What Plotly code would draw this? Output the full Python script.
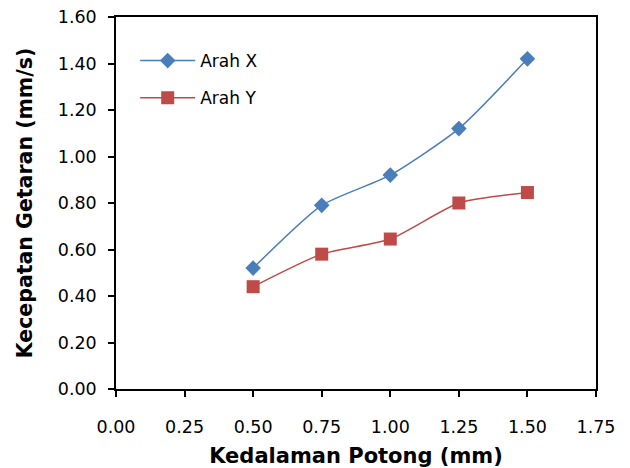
import plotly.graph_objects as go

depth = [0.50, 0.75, 1.00, 1.25, 1.50]
arah_x = [0.52, 0.79, 0.92, 1.12, 1.42]
arah_y = [0.44, 0.58, 0.645, 0.80, 0.845]
x_ticks = [0.00, 0.25, 0.50, 0.75, 1.00, 1.25, 1.50, 1.75]
y_ticks = [0.00, 0.20, 0.40, 0.60, 0.80, 1.00, 1.20, 1.40, 1.60]

FONT = "DejaVu Sans"

fig = go.Figure()
fig.add_trace(go.Scatter(
    x=depth, y=arah_x, name="Arah X", mode="lines+markers", legendgroup="x",
    line=dict(color="#4a7ebb", width=1.5, shape="spline", smoothing=0.6),
    marker=dict(symbol="diamond", size=12, color="#4a7ebb"),
))
fig.add_trace(go.Scatter(
    x=depth, y=arah_y, name="Arah Y", mode="lines+markers", legendgroup="y",
    line=dict(color="#be4b48", width=1.5, shape="spline", smoothing=0.6),
    marker=dict(symbol="square", size=13, color="#be4b48"),
))

fig.update_layout(
    width=630, height=468,
    margin=dict(l=116, r=34, t=17, b=79),
    paper_bgcolor="white", plot_bgcolor="white",
    font=dict(family=FONT, size=17.5, color="black"),
    showlegend=True,
    legend=dict(x=0.04, y=0.93, xanchor="left", yanchor="top",
                bgcolor="rgba(0,0,0,0)", font=dict(family=FONT, size=17),
                tracegroupgap=12, itemwidth=55),
    xaxis=dict(
        range=[0, 1.75], tickvals=x_ticks,
        ticktext=[f"{v:.2f}" for v in x_ticks],
        showgrid=False, zeroline=False, automargin=False,
        showline=True, linecolor="black", linewidth=1.5, mirror=True,
        ticks="outside", ticklen=6, tickcolor="black", tickwidth=1.5,
        ticklabelstandoff=15,
        title=dict(text="<b>Kedalaman Potong (mm)</b>", font=dict(family=FONT, size=21), standoff=14),
    ),
    yaxis=dict(
        range=[0, 1.60], tickvals=y_ticks,
        ticktext=[f"{v:.2f}" for v in y_ticks],
        showgrid=False, zeroline=False, automargin=False,
        showline=True, linecolor="black", linewidth=1.5, mirror=True,
        ticks="outside", ticklen=6, tickcolor="black", tickwidth=1.5,
        ticklabelstandoff=8,
        title=dict(text="<b>Kecepatan Getaran (mm/s)</b>", font=dict(family=FONT, size=20.5), standoff=20),
    ),
)

fig.write_html(
    "out.html",
    config={"displayModeBar": False},
    post_script="document.body.style.margin='0';document.body.style.overflow='hidden';",
)
